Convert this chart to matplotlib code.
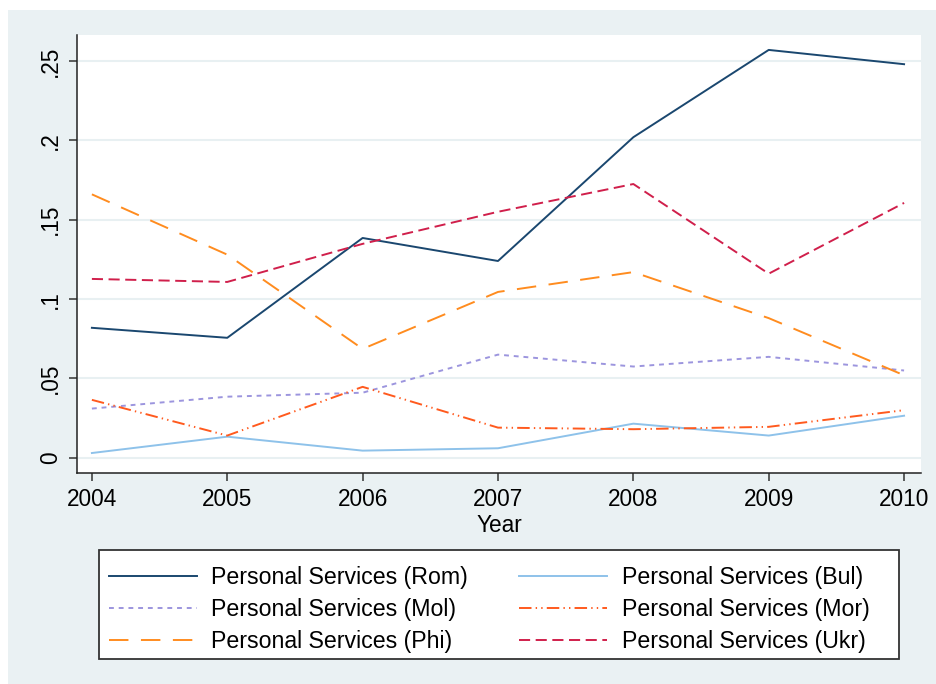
import matplotlib
matplotlib.use("Agg")
import matplotlib.pyplot as plt
from matplotlib.patches import Rectangle

plt.rcParams['font.family'] = ['Liberation Sans', 'DejaVu Sans']
plt.rcParams['lines.scale_dashes'] = False

# ------------------------------------------------------------------ #
# data
years = [2004, 2005, 2006, 2007, 2008, 2009, 2010]
rom = [0.0819, 0.0756, 0.1385, 0.1240, 0.2020, 0.2570, 0.2480]
bul = [0.0030, 0.0133, 0.0045, 0.0060, 0.0215, 0.0140, 0.0265]
mol = [0.0310, 0.0385, 0.0410, 0.0650, 0.0575, 0.0636, 0.0550]
mor = [0.0365, 0.0140, 0.0447, 0.0190, 0.0180, 0.0195, 0.0300]
phi = [0.1660, 0.1280, 0.0686, 0.1045, 0.1170, 0.0880, 0.0520]
ukr = [0.1127, 0.1108, 0.1348, 0.1550, 0.1725, 0.1160, 0.1606]

yticks = [0, 0.05, 0.1, 0.15, 0.2, 0.25]
ytick_labels = ['0', '.05', '.1', '.15', '.2', '.25']
x_label = 'Year'

series = [
    ('Personal Services (Rom)', rom, '#1a476f', '-'),
    ('Personal Services (Bul)', bul, '#8ec2ea', '-'),
    ('Personal Services (Mol)', mol, '#9c95de', (0, (3.5, 3.5))),
    ('Personal Services (Mor)', mor, '#ff5a1e', (0, (9, 3, 1, 3, 1, 3))),
    ('Personal Services (Phi)', phi, '#ff8c1f', (0, (14, 9))),
    ('Personal Services (Ukr)', ukr, '#d01f4b', (0, (8, 4))),
]

W, H = 936, 684

# ------------------------------------------------------------------ #
fig = plt.figure(figsize=(W / 100, H / 100), dpi=100, facecolor='white')
# Stata-like outer panel
fig.patches.append(Rectangle((8 / W, 0), 1, 1 - 10 / H, transform=fig.transFigure,
                             facecolor='#eaf1f3', edgecolor='none', zorder=-10))

ax = fig.add_axes([77 / W, 1 - 472.7 / H, (921 - 77) / W, (472.7 - 35) / H])
ax.set_facecolor('white')

for label, vals, col, ls in series:
    ax.plot(years, vals, color=col, linestyle=ls, linewidth=1.4, label=label)

ax.set_xlim(2003.89, 2010.125)
ax.set_ylim(-0.0094, 0.2664)
ax.set_xticks(years)
ax.set_xticklabels([str(y) for y in years])
ax.set_yticks(yticks)
ax.set_yticklabels(ytick_labels, rotation=90, va='center')
ax.grid(axis='y', color='#e8f0f2', linewidth=1.5)
ax.set_axisbelow(True)

for side in ['top', 'right']:
    ax.spines[side].set_visible(False)
for side in ['left', 'bottom']:
    ax.spines[side].set_color('#222222')
    ax.spines[side].set_linewidth(1.1)
ax.tick_params(direction='out', length=6, width=1.1, color='#333333',
               labelsize=16.3, pad=5)
ax.set_xlabel(x_label, fontsize=16.3, labelpad=2)

# legend box (drawn separately so the columns can sit where Stata puts them)
fig.patches.append(Rectangle((99 / W, 1 - 659 / H), 800 / W, 109 / H, transform=fig.transFigure,
                             facecolor='white', edgecolor='#333333', linewidth=1.3, zorder=1))

handles, labels = ax.get_legend_handles_labels()
order = [0, 2, 4, 1, 3, 5]
leg = fig.legend([handles[i] for i in order], [labels[i] for i in order],
                 ncol=2, loc='upper left',
                 bbox_to_anchor=(88 / W, 1 - 545 / H),
                 fontsize=16.7, frameon=False,
                 handlelength=3.8, handletextpad=0.62, labelspacing=0.385,
                 borderpad=0.4, columnspacing=2.2)
leg.set_zorder(2)

plt.savefig('out.png', dpi=100, facecolor=fig.get_facecolor())
plt.close()
